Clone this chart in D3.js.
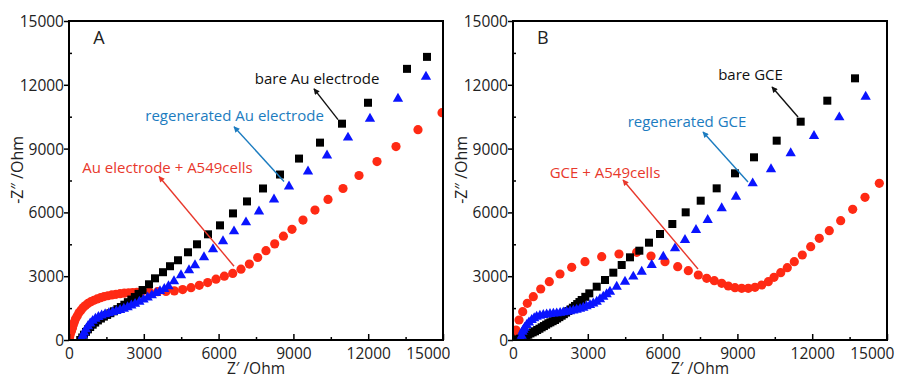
<!DOCTYPE html>
<html>
<head>
<meta charset="utf-8">
<script src="https://cdn.jsdelivr.net/npm/d3@7/dist/d3.min.js"></script>
<style>
  body { margin: 0; background: #fff; }
  text { font-family: "Open Sans", "DejaVu Sans", sans-serif; }
</style>
</head>
<body>
<div id="chart"></div>
<script>
// axis ticks (Ohm)
const majorTicks = [0, 3000, 6000, 9000, 12000, 15000];
const minorTicks = [1500, 4500, 7500, 10500, 13500];

// panel A: Au electrode, [Z', -Z'']
const aBare = [
  [450, 0], [530, 120], [600, 250], [680, 380], [760, 500], [850, 610], [950, 720],
  [1050, 820], [1160, 920], [1280, 1010], [1400, 1100], [1530, 1180], [1660, 1260],
  [1800, 1350], [1940, 1450], [2080, 1550], [2220, 1660], [2360, 1780], [2500, 1900],
  [2640, 2020], [2790, 2170], [2950, 2350], [3209, 2620], [3449, 2900], [3770, 3188],
  [4051, 3469], [4372, 3750], [4773, 4125], [5134, 4500], [5575, 4969], [6056, 5391],
  [6577, 5953], [7139, 6516], [7781, 7125], [8463, 7781], [9225, 8531], [10067, 9281],
  [10949, 10172], [11992, 11156], [13556, 12750], [14358, 13313]
];
const aRegen = [
  [480, 0], [520, 100], [560, 220], [610, 350], [680, 500], [760, 650], [850, 780],
  [950, 900], [1060, 1000], [1180, 1080], [1310, 1150], [1450, 1210], [1600, 1260],
  [1750, 1310], [1900, 1360], [2050, 1410], [2200, 1470], [2350, 1540], [2500, 1620],
  [2650, 1700], [2821, 1797], [2990, 1900], [3155, 2000], [3320, 2100], [3489, 2203],
  [3650, 2300], [3822, 2400], [3990, 2530], [4211, 2760], [4492, 3047], [4813, 3281],
  [5053, 3516], [5414, 3891], [5775, 4266], [6176, 4641], [6618, 5109], [7099, 5531],
  [7620, 6047], [8222, 6609], [8824, 7219], [9586, 7922], [10348, 8672], [11190, 9516],
  [12072, 10406], [13195, 11344], [14318, 12375]
];
const aCells = [
  [0, 0], [20, 120], [50, 260], [100, 420], [140, 560], [170, 700], [210, 840],
  [260, 984], [330, 1130], [400, 1280], [480, 1400], [560, 1520], [660, 1620],
  [760, 1720], [880, 1800], [1000, 1870], [1130, 1930], [1270, 1990], [1410, 2040],
  [1560, 2080], [1720, 2120], [1885, 2150], [2050, 2180], [2219, 2200], [2390, 2220],
  [2554, 2230], [2720, 2240], [2888, 2250], [3222, 2260], [3556, 2270], [3890, 2280],
  [4225, 2310], [4559, 2370], [4893, 2460], [5227, 2570], [5562, 2700], [5896, 2860],
  [6230, 3000], [6565, 3130], [6898, 3330], [7233, 3570], [7567, 3880], [7900, 4200],
  [8250, 4520], [8600, 4880], [8944, 5203], [9385, 5641], [9866, 6109], [10388, 6609],
  [10989, 7125], [11631, 7734], [12353, 8391], [13115, 9094], [13997, 9891],
  [14960, 10688]
];

// panel B: glassy carbon electrode, [Z', -Z'']
const bBare = [
  [200, 30], [280, 60], [349, 100], [450, 160], [540, 210], [614, 250], [700, 310],
  [790, 360], [882, 410], [970, 470], [1060, 530], [1150, 596], [1240, 655], [1330, 720],
  [1416, 784], [1500, 830], [1590, 885], [1684, 941], [1770, 1010], [1860, 1075],
  [1953, 1144], [2040, 1215], [2130, 1290], [2220, 1364], [2310, 1440], [2400, 1520],
  [2487, 1599], [2575, 1690], [2665, 1785], [2755, 1881], [2900, 2030], [3060, 2194],
  [3357, 2507], [3690, 2821], [4023, 3166], [4360, 3527], [4692, 3888], [5067, 4199],
  [5454, 4577], [5896, 4984], [6390, 5454], [6926, 6003], [7528, 6551], [8169, 7131],
  [8904, 7837], [9666, 8590], [10576, 9373], [11538, 10266], [12606, 11253],
  [13717, 12304]
];
const bRegen = [
  [330, 40], [349, 200], [380, 392], [420, 480], [470, 580], [549, 705], [640, 820],
  [750, 941], [850, 1020], [950, 1097], [1080, 1140], [1216, 1176], [1350, 1200],
  [1484, 1223], [1620, 1240], [1753, 1254], [1890, 1275], [2019, 1300], [2150, 1325],
  [2286, 1350], [2420, 1385], [2554, 1420], [2690, 1465], [2820, 1520], [2950, 1580],
  [3088, 1646], [3220, 1720], [3357, 1802], [3490, 1920], [3622, 2037], [3756, 2155],
  [3890, 2272], [4159, 2507], [4492, 2743], [4825, 2979], [5162, 3212], [5563, 3527],
  [6028, 3919], [6497, 4310], [6898, 4702], [7340, 5172], [7809, 5642], [8370, 6192],
  [8944, 6738], [9613, 7367], [10348, 8026], [11137, 8778], [12072, 9592],
  [13088, 10470], [14145, 11441]
];
const bCells = [
  [0, 0], [52, 157], [120, 470], [241, 941], [389, 1332], [574, 1724], [814, 2037],
  [1111, 2398], [1456, 2743], [1885, 3103], [2354, 3416], [2888, 3683], [3557, 3919],
  [4251, 4044], [4961, 4121], [5535, 3950], [6096, 3683], [6606, 3448], [7031, 3260],
  [7432, 3056], [7769, 2899], [8074, 2790], [8370, 2664], [8635, 2539], [8904, 2460],
  [9172, 2429], [9437, 2429], [9706, 2476], [9975, 2586], [10240, 2743], [10468, 2946],
  [10737, 3166], [11001, 3401], [11282, 3683], [11603, 3997], [11939, 4389],
  [12284, 4780], [12685, 5141], [13142, 5611], [13624, 6144], [14118, 6708],
  [14692, 7367]
];

// annotation texts and their arrows, in data units: [textX, textY, tailX, tailY, headX, headY]
const aLabels = ["bare Au electrode", "regenerated Au electrode", "Au electrode + A549cells"];
const aArrows = [
  [9950, 12020, 10790, 10360, 9826, 11810],
  [6640, 10320, 8623, 7453, 6618, 10031],
  [3950, 7840, 6618, 3469, 3610, 7688]
];
const bLabels = ["bare GCE", "regenerated GCE", "GCE + A549cells"];
const bArrows = [
  [9526, 12240, 11431, 10486, 10388, 11897],
  [6979, 10030, 9425, 7429, 7620, 9781],
  [3690, 7630, 7420, 3339, 4412, 7524]
];
const labelColors = ["#111", "#1c7cc0", "#e8382c"];

const W = 898, H = 379;
const pw = 374, ph = 319;

const svg = d3.select('#chart').append('svg')
  .attr('width', W).attr('height', H)
  .style('background', '#fff');

const defs = svg.append('defs');
labelColors.forEach((c, i) => {
  defs.append('marker')
    .attr('id', 'arr' + i)
    .attr('viewBox', '0 0 10 10')
    .attr('refX', 9).attr('refY', 5)
    .attr('markerWidth', 7).attr('markerHeight', 6)
    .attr('markerUnits', 'userSpaceOnUse')
    .attr('orient', 'auto')
    .append('path').attr('d', 'M0,0 L10,5 L0,10 Z').attr('fill', c);
});

function drawPanel(id, left, clipW, letter, bare, regen, cells, labels, arrows) {
  defs.append('clipPath').attr('id', 'panel' + id)
    .append('rect').attr('x', 0).attr('y', 0).attr('width', clipW).attr('height', H);
  defs.append('clipPath').attr('id', 'plot' + id)
    .append('rect').attr('x', 0).attr('y', 0).attr('width', pw).attr('height', ph);

  const outer = svg.append('g').attr('transform', `translate(${left - 69},0)`)
    .attr('clip-path', `url(#panel${id})`);
  const g = outer.append('g').attr('transform', `translate(69,21)`);

  const x = d3.scaleLinear().domain([0, 15000]).range([0, pw]);
  const y = d3.scaleLinear().domain([0, 15000]).range([ph, 0]);

  // markers: red circles underneath, then squares, then triangles
  const plot = g.append('g').attr('clip-path', `url(#plot${id})`);
  plot.append('g').selectAll('circle').data(cells).enter().append('circle')
    .attr('cx', d => x(d[0])).attr('cy', d => y(d[1])).attr('r', 4.6)
    .attr('fill', '#ff2a14');
  plot.append('g').selectAll('rect').data(bare).enter().append('rect')
    .attr('x', d => x(d[0]) - 4).attr('y', d => y(d[1]) - 4)
    .attr('width', 8).attr('height', 8).attr('fill', '#000');
  plot.append('g').selectAll('path').data(regen).enter().append('path')
    .attr('d', d3.symbol().type(d3.symbolTriangle).size(46))
    .attr('transform', d => `translate(${x(d[0])},${y(d[1])})`)
    .attr('fill', '#0a14ff');

  // axes
  const xMajor = d3.axisBottom(x).tickValues(majorTicks).tickSize(-6).tickFormat(d3.format('d'));
  const xMinor = d3.axisBottom(x).tickValues(minorTicks).tickSize(-3).tickFormat('');
  const yMajor = d3.axisLeft(y).tickValues(majorTicks).tickSize(5).tickFormat(d3.format('d'));
  const yMinor = d3.axisLeft(y).tickValues(minorTicks).tickSize(-3).tickFormat('');

  const style = (ax) => {
    ax.select('.domain').remove();
    ax.selectAll('line').attr('stroke', '#000').attr('stroke-width', 1.5);
    ax.selectAll('text').attr('fill', '#222').style('font-size', '15.5px');
  };
  const xa = g.append('g').attr('transform', `translate(0,${ph})`).call(xMajor).call(style);
  xa.selectAll('text').attr('dy', '1.05em');
  // the last label sits left of its tick, as in the source figure
  xa.selectAll('.tick').filter(d => d === 15000).select('text')
    .attr('text-anchor', 'end').attr('x', 7);
  g.append('g').attr('transform', `translate(0,${ph})`).call(xMinor).call(style);
  g.append('g').call(yMajor).call(style)
    .selectAll('text').attr('x', -5).attr('dy', '0.36em');
  g.append('g').call(yMinor).call(style);

  // frame
  g.append('rect').attr('width', pw).attr('height', ph)
    .attr('fill', 'none').attr('stroke', '#000').attr('stroke-width', 2);

  // axis titles
  g.append('text').attr('x', x(7500)).attr('y', ph + 34)
    .attr('text-anchor', 'middle').style('font-size', '15.5px').attr('fill', '#222')
    .text('Z\u2032 /Ohm');
  g.append('text')
    .attr('transform', `translate(-46,${y(8000)}) rotate(-90)`)
    .attr('text-anchor', 'middle').style('font-size', '16px').attr('fill', '#222')
    .text('-Z\u2033 /Ohm');

  // panel letter
  g.append('text').attr('x', x(1200)).attr('y', y(13900))
    .attr('text-anchor', 'middle').style('font-size', '18px').attr('fill', '#222')
    .text(letter);

  // annotations
  arrows.forEach((a, i) => {
    g.append('line')
      .attr('x1', x(a[2])).attr('y1', y(a[3]))
      .attr('x2', x(a[4])).attr('y2', y(a[5]))
      .attr('stroke', labelColors[i]).attr('stroke-width', 1.4)
      .attr('marker-end', `url(#arr${i})`);
    g.append('text').attr('x', x(a[0])).attr('y', y(a[1]))
      .attr('text-anchor', 'middle').style('font-size', '15px')
      .attr('fill', labelColors[i]).text(labels[i]);
  });
}

drawPanel('A', 69, 450, 'A', aBare, aRegen, aCells, aLabels, aArrows);
drawPanel('B', 513, W, 'B', bBare, bRegen, bCells, bLabels, bArrows);
</script>
</body>
</html>
